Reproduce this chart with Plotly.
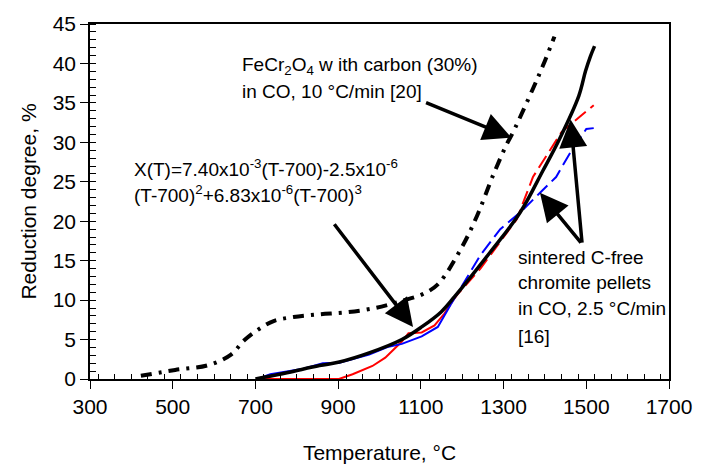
import plotly.graph_objects as go

# FeCr2O4 with 30% carbon in CO, 10 °C/min [20]
carbon_T = [423, 506, 586, 641, 673, 705, 744, 792, 855, 919, 990, 1054, 1102,
            1141, 1197, 1236, 1276, 1308, 1324, 1371, 1395, 1423]
carbon_X = [0.4, 1.15, 1.75, 3.1, 4.9, 6.2, 7.35, 7.85, 8.2, 8.45, 9.0, 9.9, 10.7,
            12.0, 16.5, 20.7, 26.0, 29.8, 31.4, 36.8, 39.7, 43.4]

# fitted polynomial X(T)
fit_T = [700, 776, 855, 903, 975, 1054, 1102, 1149, 1181, 1268, 1340, 1395,
         1435, 1482, 1498, 1510, 1520]
fit_X = [0, 0.8, 1.7, 2.15, 3.3, 5.0, 6.6, 8.5, 10.4, 16.1, 21.1, 26.4,
         30.4, 35.9, 39.0, 40.9, 42.2]

# sintered C-free chromite pellets in CO, 2.5 °C/min [16] - run 1 (red)
red_T_low = [715, 902, 935, 983, 1014, 1038, 1054, 1070, 1102, 1133, 1157, 1177]
red_X_low = [0, 0, 0.6, 1.65, 2.7, 3.9, 4.75, 5.8, 5.9, 6.8, 8.3, 9.9]
red_T_high = [1177, 1189, 1244, 1284, 1332, 1371, 1411, 1440, 1490, 1518]
red_X_high = [9.9, 10.75, 14.0, 16.9, 20.25, 25.6, 28.9, 31.3, 33.5, 34.7]

# run 2 (blue)
blue_T_low = [705, 736, 816, 863, 903, 975, 1022, 1054, 1102, 1141, 1173]
blue_X_low = [0, 0.6, 1.3, 2.0, 2.07, 3.1, 4.1, 4.45, 5.4, 6.6, 9.5]
blue_T_high = [1173, 1244, 1292, 1340, 1387, 1427, 1459, 1490, 1500, 1518]
blue_X_high = [9.5, 15.7, 19.0, 21.1, 23.55, 25.6, 28.5, 31.0, 31.7, 31.8]

x_ticks = [300, 500, 700, 900, 1100, 1300, 1500, 1700]
y_ticks = [0, 5, 10, 15, 20, 25, 30, 35, 40, 45]

FONT = "Liberation Sans, Arial, sans-serif"

fig = go.Figure()

fig.add_trace(go.Scatter(x=red_T_low, y=red_X_low, mode="lines",
                         line=dict(color="#ff0000", width=2)))
fig.add_trace(go.Scatter(x=red_T_high, y=red_X_high, mode="lines",
                         line=dict(color="#ff0000", width=2, dash="14px,6px")))
fig.add_trace(go.Scatter(x=blue_T_low, y=blue_X_low, mode="lines",
                         line=dict(color="#0000ff", width=2)))
fig.add_trace(go.Scatter(x=blue_T_high, y=blue_X_high, mode="lines",
                         line=dict(color="#0000ff", width=2, dash="14px,6px")))
fig.add_trace(go.Scatter(x=fit_T, y=fit_X, mode="lines", line_shape="spline",
                         line=dict(color="#000000", width=3.5)))
fig.add_trace(go.Scatter(x=carbon_T, y=carbon_X, mode="lines", line_shape="spline",
                         line=dict(color="#000000", width=4,
                                   dash="11px,7px,3px,7px")))

# text labels
labels = [
    (662, 39.73, "FeCr<sub>2</sub>O<sub>4</sub> w ith carbon (30%)"),
    (662, 36.5, "in CO, 10 °C/min [20]"),
    (402, 26.77, "X(T)=7.40x10<sup>-3</sup>(T-700)-2.5x10<sup>-6</sup>"),
    (402, 23.5, "(T-700)<sup>2</sup>+6.83x10<sup>-6</sup>(T-700)<sup>3</sup>"),
    (1329, 15.4, "sintered C-free"),
    (1329, 12.2, "chromite pellets"),
    (1329, 8.9, "in CO, 2.5 °C/min"),
    (1329, 5.4, "[16]"),
]
for lx, ly, txt in labels:
    fig.add_annotation(x=lx, y=ly, xref="x", yref="y", text=txt, showarrow=False,
                       xanchor="left", yanchor="middle",
                       font=dict(family=FONT, size=19, color="#000000"))

# arrows: (tip T, tip X, tail T, tail X)
arrows = [
    (1319, 30.6, 1109, 35.1),
    (1081, 6.6, 888, 19.8),
    (1462, 32.9, 1490, 17.1),
    (1388, 23.6, 1490, 17.1),
]
for tx, ty, sx, sy in arrows:
    fig.add_annotation(x=tx, y=ty, ax=sx, ay=sy, xref="x", yref="y",
                       axref="x", ayref="y", text="", showarrow=True,
                       arrowhead=2, arrowsize=1.6, arrowwidth=3.5,
                       arrowcolor="#000000", standoff=0)

axis_common = dict(
    showline=True, linecolor="#000000", linewidth=1.6, mirror=True,
    showgrid=False, zeroline=False,
    ticks="outside", ticklen=8, tickwidth=1.2, tickcolor="#000000",
    tickfont=dict(family=FONT, size=21, color="#000000"),
)

fig.update_xaxes(
    range=[300, 1700], tickvals=x_ticks,
    minor=dict(dtick=40, ticks="inside", ticklen=5, tickwidth=1, tickcolor="#000000"),
    title=dict(text="Temperature, °C", font=dict(family=FONT, size=21, color="#000000"),
               standoff=28),
    **axis_common,
)
fig.update_yaxes(
    range=[0, 45], tickvals=y_ticks,
    minor=dict(dtick=1, ticks="inside", ticklen=6, tickwidth=1, tickcolor="#000000"),
    title=dict(text="Reduction degree, %", font=dict(family=FONT, size=21, color="#000000"),
               standoff=10),
    **axis_common,
)

fig.update_layout(
    width=704, height=473,
    margin=dict(l=90, r=26, t=17, b=93),
    paper_bgcolor="#ffffff", plot_bgcolor="#ffffff",
    showlegend=False,
)

fig.write_html("out.html")
